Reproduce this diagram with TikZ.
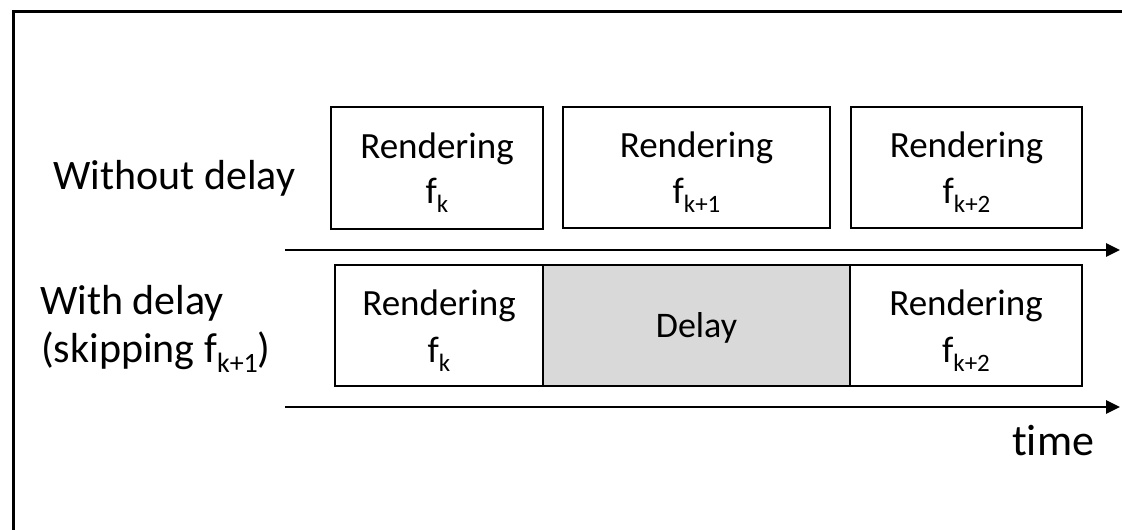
\documentclass[tikz,border=0pt]{standalone}
\usepackage{fontspec}
\setmainfont{Carlito}[Ligatures=NoCommon]
\usetikzlibrary{arrows.meta,calc}
\newcommand\lowsub[1]{\raisebox{-9pt}{\fontsize{25}{25}\selectfont #1}}
\newcommand\lowsubl[1]{\raisebox{-10pt}{\fontsize{28}{28}\selectfont #1}}
\begin{document}
\begin{tikzpicture}[x=1pt,y=-1pt,
  cellbox/.style={draw=black,line width=2.6pt,inner sep=0pt,outer sep=0pt},
  delaybox/.style={cellbox,fill=gray!30},
  txt/.style={inner sep=0pt,anchor=base,font=\fontsize{37}{44}\selectfont},
  lefttxt/.style={inner sep=0pt,anchor=base west,font=\fontsize{42}{50}\selectfont},
  timeline/.style={line width=2.8pt,-{Triangle[length=14pt,width=13pt]}}]
\useasboundingbox (0,0) rectangle (1122,530);
% frame (cut at right and bottom)
\coordinate (fbl) at (13.5,540);
\coordinate (ftl) at (13.5,11);
\coordinate (ftr) at (1130,11);
\draw[line width=3pt] (fbl) -- (ftl) -- (ftr);
% top row
\node[cellbox,minimum width=212pt,minimum height=122pt] (a1) at (437,168) {};
\node[cellbox,minimum width=267pt,minimum height=121pt] (a2) at (696.5,167.5) {};
\node[cellbox,minimum width=231pt,minimum height=121pt] (a3) at (966.5,167.5) {};
\node[txt] (a1t) at ($(a1.center)+(0,-10)$) {Rendering};
\node[txt] (a1f) at ($(a1.center)+(0,35)$) {f\lowsub{k}};
\node[txt] (a2t) at ($(a2.center)+(0,-10)$) {Rendering};
\node[txt] (a2f) at ($(a2.center)+(0,35.5)$) {f\lowsub{k+1}};
\node[txt] (a3t) at ($(a3.center)+(0,-10)$) {Rendering};
\node[txt] (a3f) at ($(a3.center)+(0,35.5)$) {f\lowsub{k+2}};
% bottom row
\node[cellbox,minimum width=208pt,minimum height=121pt] (b1) at (439,325.5) {};
\node[delaybox,minimum width=307pt,minimum height=121pt] (b2) at (696.5,325.5) {};
\node[cellbox,minimum width=232pt,minimum height=121pt] (b3) at (966,325.5) {};
\node[txt] (b1t) at ($(b1.center)+(0,-10.5)$) {Rendering};
\node[txt] (b1f) at ($(b1.center)+(0,37)$) {f\lowsub{k}};
\node[txt,font=\fontsize{36}{44}\selectfont] (b2t) at ($(b2.center)+(0,12)$) {Delay};
\node[txt] (b3t) at ($(b3.center)+(0,-10.5)$) {Rendering};
\node[txt] (b3f) at ($(b3.center)+(0,37)$) {f\lowsub{k+2}};
% labels
\node[lefttxt] (l1) at (53,189) {Without delay};
\node[lefttxt] (l2) at (40,314) {With delay};
\node[lefttxt] (l3) at (41,362) {(skipping f\lowsubl{k+1})};
\node[lefttxt,font=\fontsize{44}{50}\selectfont] (l4) at (1012,455) {time};
% time axes
\coordinate (t1s) at (285,250);
\coordinate (t1e) at (1120,250);
\coordinate (t2s) at (285,407);
\coordinate (t2e) at (1120,407);
\draw[timeline] (t1s) -- (t1e);
\draw[timeline] (t2s) -- (t2e);
\end{tikzpicture}
\end{document}
